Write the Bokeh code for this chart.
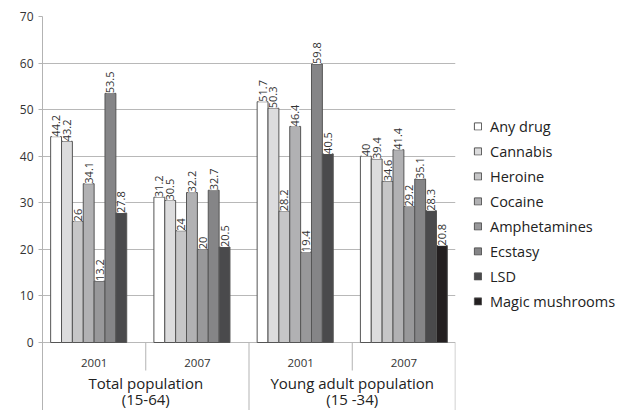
import math
from bokeh.plotting import figure
from bokeh.models import Range1d, FixedTicker, Legend, LegendItem, ColumnDataSource
from bokeh.core.properties import value
from bokeh.embed import file_html
from bokeh.resources import INLINE

# ---- data ----
drugs = ["Any drug", "Cannabis", "Heroine", "Cocaine", "Amphetamines",
         "Ecstasy", "LSD", "Magic mushrooms"]
years = ["2001", "2007", "2001", "2007"]
groups = ["Total population", "Young adult population"]
group_sub = ["(15-64)", "(15 -34)"]
any_drug = [44.2, 31.2, 51.7, 40]
cannabis = [43.2, 30.5, 50.3, 39.4]
heroine = [26, 24, 28.2, 34.6]
cocaine = [34.1, 32.2, 46.4, 41.4]
amphetamines = [13.2, 20, 19.4, 29.2]
ecstasy = [53.5, 32.7, 59.8, 35.1]
lsd = [27.8, 20.5, 40.5, 28.3]
magic = [None, None, None, 20.8]
series = [any_drug, cannabis, heroine, cocaine, amphetamines, ecstasy, lsd, magic]
y_ticks = [0, 10, 20, 30, 40, 50, 60, 70]

colors = ["#ffffff", "#dcdcdd", "#c6c6c7", "#b1b1b3", "#98989a",
          "#858587", "#4a4a4c", "#231f20"]

FONT = "Open Sans"
FW, FH = 413, 394
ML, MT, MR, MB = 42, 16, 165, 0
ymax = 70
px_per_unit = 326 / 70.0
ymin = ymax - FH / px_per_unit

p = figure(frame_width=FW, frame_height=FH, output_backend="svg", toolbar_location=None,
           x_range=Range1d(0, len(years)), y_range=Range1d(ymin, ymax),
           x_axis_location=None, min_border_left=ML, min_border_top=MT,
           min_border_right=MR, min_border_bottom=MB)
p.outline_line_color = None
p.background_fill_color = "white"
p.border_fill_color = "white"
p.xgrid.visible = False
p.ygrid.ticker = FixedTicker(ticks=y_ticks)
p.ygrid.grid_line_color = "#b8b8b8"
p.ygrid.grid_line_width = 1
yax = p.yaxis[0]
yax.ticker = FixedTicker(ticks=y_ticks)
yax.axis_line_color = "#b3b3b3"
yax.major_tick_line_color = "#b3b3b3"
yax.major_tick_out = 4
yax.major_tick_in = 0
yax.minor_tick_line_color = None
yax.major_label_text_font = FONT
yax.major_label_text_font_size = "12px"
yax.major_label_text_color = "#333333"
yax.major_label_standoff = 5

n = len(drugs)
bw = 1.0 / (n + 1.5)


def bar_cols(i, vals):
    xs, tops, labels = [], [], []
    for c, v in enumerate(vals):
        if v is None:
            continue
        xs.append(c + 0.5 + (i - (n - 1) / 2.0) * bw)
        tops.append(v)
        labels.append(f"{v:g}")
    return xs, tops, labels


legend_items = []
for i, (name, vals) in enumerate(zip(drugs, series)):
    xs, tops, labels = bar_cols(i, vals)
    src = ColumnDataSource(dict(x=xs, top=tops))
    r = p.vbar(x="x", top="top", bottom=0, width=bw, source=src,
               fill_color=colors[i], line_color="#555555", line_width=1)
    legend_items.append(LegendItem(label=name, renderers=[r]))

# data labels (drawn after all bars)
for i, (name, vals) in enumerate(zip(drugs, series)):
    xs, tops, labels = bar_cols(i, vals)
    src = ColumnDataSource(dict(x=xs, y=tops, label=labels))
    p.text(x="x", y="y", text="label", source=src, angle=math.pi / 2,
           text_align="left", text_baseline="middle",
           text_font=value(FONT), text_font_size="11px", text_color="#333333",
           background_fill_color="white")

# category separators
short_y = -28 / px_per_unit
sx, sy0, sy1 = [], [], []
for k in range(1, len(years) + 1):
    sx.append(k - 0.002 if k == len(years) else k)
    sy0.append(0)
    sy1.append(short_y if k % 2 == 1 else ymin)
p.segment(x0=sx, y0=sy0, x1=sx, y1=sy1, line_color="#b3b3b3", line_width=1)

# year labels
p.text(x=[c + 0.5 for c in range(len(years))], y=[-20 / px_per_unit] * len(years),
       text=years, text_align="center", text_baseline="middle",
       text_font=value(FONT), text_font_size="11.5px", text_color="#333333")
# group labels
gx = [1.0 + 2 * g for g in range(len(groups))]
p.text(x=gx, y=[-40 / px_per_unit] * len(groups), text=groups,
       text_align="center", text_baseline="middle",
       text_font=value(FONT), text_font_size="15px", text_color="#222222")
p.text(x=gx, y=[-56 / px_per_unit] * len(groups), text=group_sub,
       text_align="center", text_baseline="middle",
       text_font=value(FONT), text_font_size="15px", text_color="#222222")

legend = Legend(items=legend_items, location="center_left", margin=18,
                padding=0, spacing=5, glyph_width=9, glyph_height=9,
                label_height=20, label_standoff=8,
                label_text_font=FONT, label_text_font_size="14.5px",
                label_text_color="#222222",
                border_line_color=None, background_fill_alpha=0)
p.add_layout(legend, "right")

open("out.html", "w").write(file_html(p, INLINE))
